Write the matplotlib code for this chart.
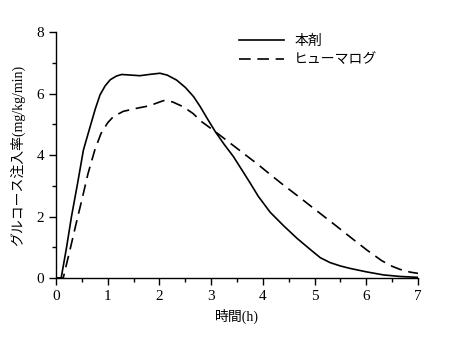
import matplotlib
matplotlib.use("Agg")
import matplotlib.pyplot as plt
from matplotlib.ticker import MultipleLocator

plt.rcParams['font.family'] = ['Liberation Serif', 'Noto Sans CJK JP']

# 本剤 (solid)
t_drug = [0, 0.1, 0.2, 0.3, 0.42, 0.53, 0.66, 0.76, 0.85, 0.95, 1.05, 1.17,
          1.27, 1.45, 1.62, 1.8, 2.01, 2.15, 2.33, 2.5, 2.66, 2.79, 2.92,
          3.08, 3.25, 3.43, 3.6, 3.75, 3.91, 4.14, 4.4, 4.66, 4.9, 5.11,
          5.3, 5.5, 5.69, 6.0, 6.33, 6.65, 7.0]
y_drug = [0, 0, 0.95, 2.0, 3.1, 4.16, 4.92, 5.5, 5.95, 6.25, 6.45, 6.57,
          6.62, 6.6, 6.58, 6.62, 6.66, 6.6, 6.44, 6.2, 5.9, 5.57, 5.2,
          4.76, 4.35, 3.95, 3.5, 3.1, 2.66, 2.14, 1.7, 1.29, 0.95, 0.66,
          0.5, 0.39, 0.31, 0.2, 0.1, 0.05, 0.02]

# ヒューマログ (dashed)
t_hum = [0, 0.14, 0.27, 0.38, 0.5, 0.62, 0.75, 0.87, 1.0, 1.11, 1.3, 1.56,
         1.8, 2.08, 2.25, 2.46, 2.65, 2.82, 3.08, 3.35, 3.62, 3.9, 4.14,
         4.4, 4.72, 5.0, 5.36, 5.69, 6.01, 6.3, 6.5, 6.65, 6.85, 7.0]
y_hum = [0, 0, 0.91, 1.7, 2.54, 3.4, 4.16, 4.7, 5.05, 5.25, 5.42, 5.52,
         5.6, 5.77, 5.73, 5.57, 5.35, 5.08, 4.76, 4.41, 4.06, 3.7, 3.37,
         3.02, 2.61, 2.24, 1.77, 1.33, 0.91, 0.56, 0.38, 0.28, 0.19, 0.15]

labels = ['本剤', 'ヒューマログ']

fig = plt.figure(figsize=(4.5, 3.41), dpi=100)
ax = fig.add_axes([0.1244, 0.1848, 0.8046, 0.7212])

ax.plot(t_drug, y_drug, color='black', lw=1.2, label=labels[0])
ax.plot(t_hum, y_hum, color='black', lw=1.2, dashes=(7, 4), label=labels[1])

ax.set_xlim(0, 7)
ax.set_ylim(0, 8)
ax.xaxis.set_major_locator(MultipleLocator(1))
ax.xaxis.set_minor_locator(MultipleLocator(0.5))
ax.yaxis.set_major_locator(MultipleLocator(2))
ax.yaxis.set_minor_locator(MultipleLocator(1))
ax.tick_params(which='major', length=5, width=1, labelsize=11, direction='out')
ax.tick_params(which='minor', length=3, width=1, direction='out')

for s in ['top', 'right']:
    ax.spines[s].set_visible(False)
for s in ['left', 'bottom']:
    ax.spines[s].set_linewidth(1)

ax.set_xlabel('時間(h)', fontsize=10, labelpad=4)
ax.set_ylabel('グルコース注入率(mg/kg/min)', fontsize=10, labelpad=8)

ax.legend(loc='upper left', bbox_to_anchor=(0.47, 1.04), frameon=False,
          handlelength=3.3, fontsize=10, labelspacing=0.4, handletextpad=0.7)

fig.savefig('out.png', dpi=100)
